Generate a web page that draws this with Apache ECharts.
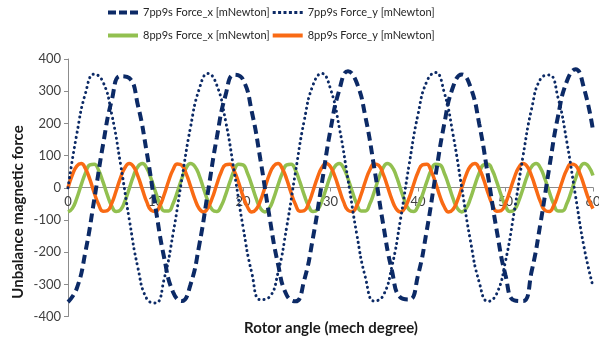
<!DOCTYPE html>
<html>
<head>
<meta charset="utf-8">
<script src="https://cdn.jsdelivr.net/npm/echarts@6/dist/echarts.min.js"></script>
<style>
  html, body { margin: 0; padding: 0; background: #ffffff; }
  #chart { width: 599px; height: 342px; }
</style>
</head>
<body>
<div id="chart"></div>
<script>
// Rotor angle samples (mech degree)
const angle7 = [0,1,2,3,4,5,6,7,8,9,10,11,12,13,14,15,16,17,18,19,20,21,22,23,24,25,26,27,28,29,30,
  31,32,33,34,35,36,37,38,39,40,41,42,43,44,45,46,47,48,49,50,51,52,53,54,55,56,57,58,59,60];
const angle8 = [0,0.5,1,1.5,2,2.5,3,3.5,4,4.5,5,5.5,6,6.5,7,7.5,8,8.5,9,9.5,10,10.5,11,11.5,12,12.5,13,13.5,14,14.5,
  15,15.5,16,16.5,17,17.5,18,18.5,19,19.5,20,20.5,21,21.5,22,22.5,23,23.5,24,24.5,25,25.5,26,26.5,27,27.5,28,28.5,29,29.5,
  30,30.5,31,31.5,32,32.5,33,33.5,34,34.5,35,35.5,36,36.5,37,37.5,38,38.5,39,39.5,40,40.5,41,41.5,42,42.5,43,43.5,44,44.5,
  45,45.5,46,46.5,47,47.5,48,48.5,49,49.5,50,50.5,51,51.5,52,52.5,53,53.5,54,54.5,55,55.5,56,56.5,57,57.5,58,58.5,59,59.5,60];

// 7 pole-pair / 9 slot unbalanced force components [mNewton]
const force7x = [-355,-313,-198,-37,133,272,347,341,255,110,-62,-219,-324,-352,-301,-178,-12,155,287,351,
  336,237,86,-86,-237,-334,-353,-287,-155,12,180,303,362,326,219,62,-110,-255,-341,-347,
  -272,-133,37,198,313,352,313,198,37,-133,-272,-350,-352,-258,-110,62,222,330,368,306,178];
const force7y = [0,166,294,353,329,228,74,-98,-250,-345,-358,-282,-144,25,188,307,355,319,209,49,
  -121,-264,-348,-340,-264,-121,49,209,319,355,307,188,25,-144,-280,-352,-336,-247,-98,74,
  228,330,358,296,166,0,-166,-294,-353,-329,-228,-74,98,247,338,350,280,144,-25,-188,-307];

// 8 pole-pair / 9 slot unbalanced force components [mNewton]
const force8x = [-75,-64,-33,8,46,71,73,54,18,-23,-57,-74,-69,-42,-3,38,66,75,61,28,
  -13,-50,-72,-72,-50,-13,28,61,75,66,38,-3,-42,-69,-74,-57,-23,18,54,73,71,46,8,-33,-64,
  -75,-64,-33,8,46,71,73,54,18,-23,-57,-74,-69,-42,-3,38,66,75,61,28,
  -13,-50,-72,-72,-50,-13,28,61,75,66,38,-3,-42,-69,-74,-57,-23,18,54,73,71,46,8,-33,-64,
  -75,-64,-33,8,46,71,73,54,18,-23,-57,-74,-69,-42,-3,38,66,75,61,28,
  -13,-50,-72,-72,-50,-13,28,61,75,66,38];
const force8y = [0,40,67,75,59,26,-16,-52,-73,-71,-48,-10,31,62,75,65,35,-5,-44,-70,
  -74,-56,-21,21,56,74,70,44,5,-35,-65,-75,-62,-31,10,48,71,73,52,16,-26,-59,-75,-67,-40,
  0,40,67,75,59,26,-16,-52,-73,-71,-48,-10,31,62,75,65,35,-5,-44,-70,
  -74,-56,-21,21,56,74,70,44,5,-35,-65,-75,-62,-31,10,48,71,73,52,16,-26,-59,-75,-67,-40,
  0,40,67,75,59,26,-16,-52,-73,-71,-48,-10,31,62,75,65,35,-5,-44,-70,
  -74,-56,-21,21,56,74,70,44,5,-35,-65];

const seriesNames = [
  '7pp9s Force_x [mNewton]',
  '7pp9s Force_y [mNewton]',
  '8pp9s Force_x [mNewton]',
  '8pp9s Force_y [mNewton]'
];
const xTitle = 'Rotor angle (mech degree)';
const yTitle = 'Unbalance magnetic force';

const pairs = (xs, ys) => xs.map((x, i) => [x, ys[i]]);

const NAVY = '#0c2a66';
const GREEN = '#92c050';
const ORANGE = '#f96a14';
const FONT = 'Lato';

// Legend swatches: dashed, dotted and solid strokes drawn as filled paths
const ICON_DASH = 'path://M0,0h8v4h-8z M11,0h8v4h-8z M22,0h8v4h-8z';
const ICON_DOT = 'path://M0,0.5h3v3h-3z M5.4,0.5h3v3h-3z M10.8,0.5h3v3h-3z M16.2,0.5h3v3h-3z M21.6,0.5h3v3h-3z M27,0.5h3v3h-3z';
const ICON_SOLID = 'path://M0,0h30v4h-30z';

const chart = echarts.init(document.getElementById('chart'), null, { renderer: 'canvas' });

const legendText = { color: '#262626', fontSize: 11, fontFamily: FONT };
const titleStyle = { fontFamily: FONT, fontSize: 15, fontWeight: 'bold', fill: '#1a1a1a' };

chart.setOption({
  animation: false,
  backgroundColor: '#ffffff',
  legend: [
    {
      data: [
        { name: seriesNames[0], icon: ICON_DASH },
        { name: seriesNames[1], icon: ICON_DOT }
      ],
      top: 7, left: 108, padding: 0,
      itemWidth: 30, itemHeight: 4, itemGap: 3,
      textStyle: legendText
    },
    {
      data: [
        { name: seriesNames[2], icon: ICON_SOLID },
        { name: seriesNames[3], icon: ICON_SOLID }
      ],
      top: 30, left: 108, padding: 0,
      itemWidth: 30, itemHeight: 4, itemGap: 3,
      textStyle: legendText
    }
  ],
  // Axis titles
  graphic: [
    {
      type: 'text', x: 331, y: 328,
      style: Object.assign({ text: xTitle, align: 'center', verticalAlign: 'middle' }, titleStyle)
    },
    {
      type: 'text', x: 18, y: 212, rotation: Math.PI / 2,
      style: Object.assign({ text: yTitle, align: 'center', verticalAlign: 'middle' }, titleStyle)
    }
  ],
  grid: { left: 68, right: 6, top: 59, bottom: 25.5, containLabel: false, outerBoundsMode: 'none' },
  xAxis: {
    type: 'value', min: 0, max: 60, interval: 10,
    position: 'bottom', offset: -129,
    axisLine: { onZero: false, lineStyle: { color: '#8c8c8c', width: 1 } },
    axisTick: { show: true, length: 4, lineStyle: { color: '#8c8c8c' } },
    axisLabel: { fontFamily: FONT, fontSize: 13, color: '#404040', margin: 8 },
    splitLine: { show: false }
  },
  yAxis: {
    type: 'value', min: -400, max: 400, interval: 100,
    axisLine: { show: true, onZero: false, lineStyle: { color: '#8c8c8c', width: 1 } },
    axisTick: { show: true, length: 4, lineStyle: { color: '#8c8c8c' } },
    axisLabel: { fontFamily: FONT, fontSize: 13, color: '#404040', margin: 7 },
    splitLine: { show: false }
  },
  series: [
    {
      name: seriesNames[0], type: 'line', data: pairs(angle7, force7x),
      smooth: true, showSymbol: false, symbol: 'none',
      lineStyle: { color: NAVY, width: 4, type: [9, 5] },
      itemStyle: { color: NAVY }, z: 3
    },
    {
      name: seriesNames[1], type: 'line', data: pairs(angle7, force7y),
      smooth: true, showSymbol: false, symbol: 'none',
      lineStyle: { color: NAVY, width: 3, type: [0.1, 5], cap: 'round' },
      itemStyle: { color: NAVY }, z: 3
    },
    {
      name: seriesNames[2], type: 'line', data: pairs(angle8, force8x),
      smooth: true, showSymbol: false, symbol: 'none',
      lineStyle: { color: GREEN, width: 3.5 },
      itemStyle: { color: GREEN }, z: 2
    },
    {
      name: seriesNames[3], type: 'line', data: pairs(angle8, force8y),
      smooth: true, showSymbol: false, symbol: 'none',
      lineStyle: { color: ORANGE, width: 3.5 },
      itemStyle: { color: ORANGE }, z: 2
    }
  ]
});
</script>
</body>
</html>
